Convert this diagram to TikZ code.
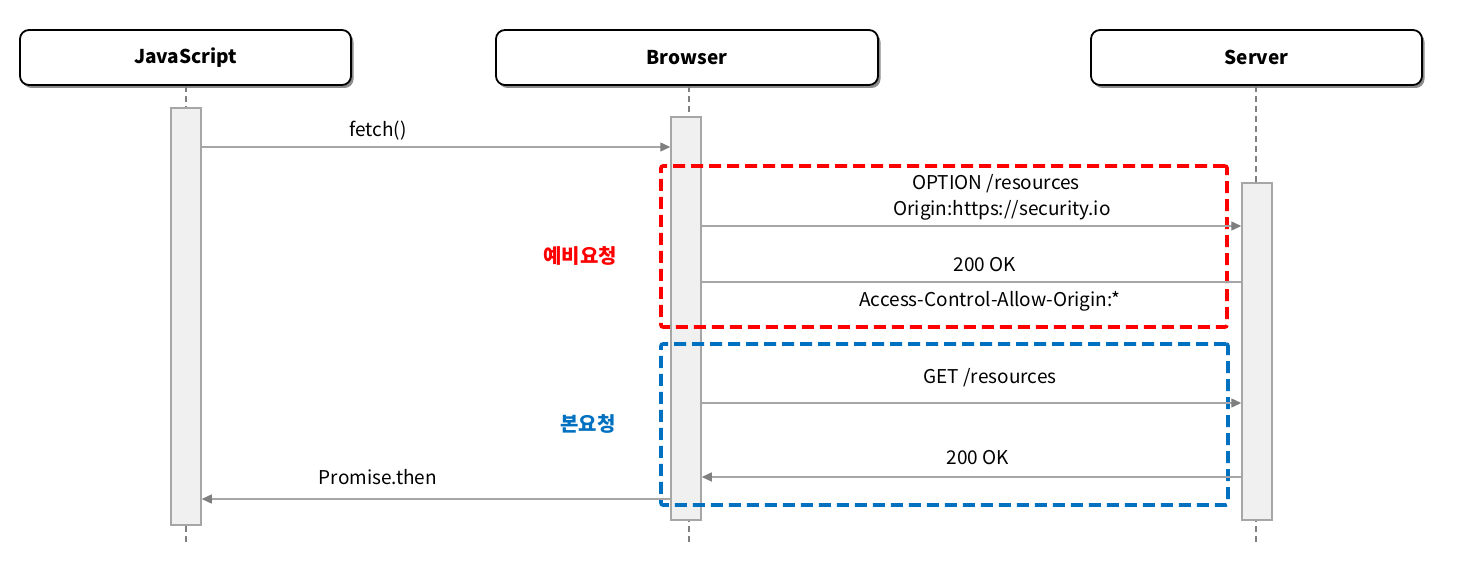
\documentclass[tikz,border=0pt]{standalone}
\usepackage{fontspec}
\setmainfont{Noto Sans CJK KR}
\usetikzlibrary{arrows.meta,shadows}
\definecolor{linegray}{HTML}{A6A6A6}
\definecolor{headgray}{HTML}{7F7F7F}
\definecolor{barfill}{HTML}{F0F0F0}
\definecolor{lifegray}{HTML}{808080}
\definecolor{myred}{HTML}{FF0000}
\definecolor{myblue}{HTML}{0070C0}
\tikzset{
  actor/.style={draw=black, line width=1.8pt, rounded corners=9pt, fill=white,
    minimum height=55pt, inner sep=0pt,
    font=\fontsize{19}{22}\selectfont\bfseries,
    drop shadow={shadow xshift=2.5pt, shadow yshift=-3pt, fill=black, opacity=0.45}},
  actbar/.style={draw=linegray, line width=1.5pt, fill=barfill, minimum width=30pt, inner sep=0pt},
  lifeline/.style={draw=lifegray, line width=2pt, dash pattern=on 6pt off 4pt},
  msg/.style={draw=linegray, line width=1.4pt, -{Triangle[length=10pt,width=9pt,fill=headgray,color=headgray]}},
  msgplain/.style={draw=linegray, line width=1.4pt},
  lbl/.style={font=\fontsize{19}{22}\selectfont, inner sep=0pt},
  grp/.style={line width=3.6pt, dash pattern=on 12pt off 6pt, rounded corners=2pt},
  grplbl/.style={font=\fontsize{20}{24}\selectfont\bfseries, inner sep=0pt}
}
\begin{document}
\begin{tikzpicture}[x=1pt,y=-1pt]
\useasboundingbox (0,0) rectangle (1466,572);
\fill[white] (0,0) rectangle (1466,572);
% actors
\node[actor, minimum width=331pt] (js) at (185.5,57.5) {JavaScript};
\node[actor, minimum width=382pt] (br) at (687,57.5) {Browser};
\node[actor, minimum width=331pt] (sv) at (1256.5,57.5) {Server};
% lifeline ends
\coordinate (jsend) at (186,543);
\coordinate (brend) at (689,543);
\coordinate (svend) at (1256,543);
\draw[lifeline] (js.south -| jsend) -- (jsend);
\draw[lifeline] (br.south -| brend) -- (brend);
\draw[lifeline] (sv.south -| svend) -- (svend);
% activation bars
\node[actbar, minimum height=417pt] (jsbar) at (186,316.5) {};
\node[actbar, minimum height=403pt] (brbar) at (686,318.5) {};
\node[actbar, minimum height=337pt] (svbar) at (1257,351.5) {};
% group boxes
\node[grp, draw=myred, minimum width=566pt, minimum height=161pt, inner sep=0pt] (pre) at (944,246.5) {};
\node[grp, draw=myblue, minimum width=567pt, minimum height=161pt, inner sep=0pt] (main) at (944.5,424.5) {};
\node[grplbl, text=myred] (prelbl) at (580,256) {예비요청};
\node[grplbl, text=myblue] (mainlbl) at (588,424) {본요청};
% message rows
\coordinate (m1) at (0,147);
\coordinate (m2) at (0,226);
\coordinate (m3) at (0,282);
\coordinate (m4) at (0,403);
\coordinate (m5) at (0,477);
\coordinate (m6) at (0,499);
\draw[msg] (jsbar.east |- m1) -- (brbar.west |- m1);
\node[lbl] (l1) at (378,131) {fetch()};
\draw[msg] (brbar.east |- m2) -- (svbar.west |- m2);
\node[lbl] (l2a) at (996,184) {OPTION /resources};
\node[lbl] (l2b) at (1002,210) {Origin:https://security.io};
\draw[msgplain] (svbar.west |- m3) -- (brbar.east |- m3);
\node[lbl] (l3a) at (985,265) {200 OK};
\node[lbl] (l3b) at (990,301) {Access-Control-Allow-Origin:*};
\draw[msg] (brbar.east |- m4) -- (svbar.west |- m4);
\node[lbl] (l4) at (990,378) {GET /resources};
\draw[msg] (svbar.west |- m5) -- (brbar.east |- m5);
\node[lbl] (l5) at (978,458) {200 OK};
\draw[msg] (brbar.west |- m6) -- (jsbar.east |- m6);
\node[lbl] (l6) at (378,477) {Promise.then};
\end{tikzpicture}
\end{document}
